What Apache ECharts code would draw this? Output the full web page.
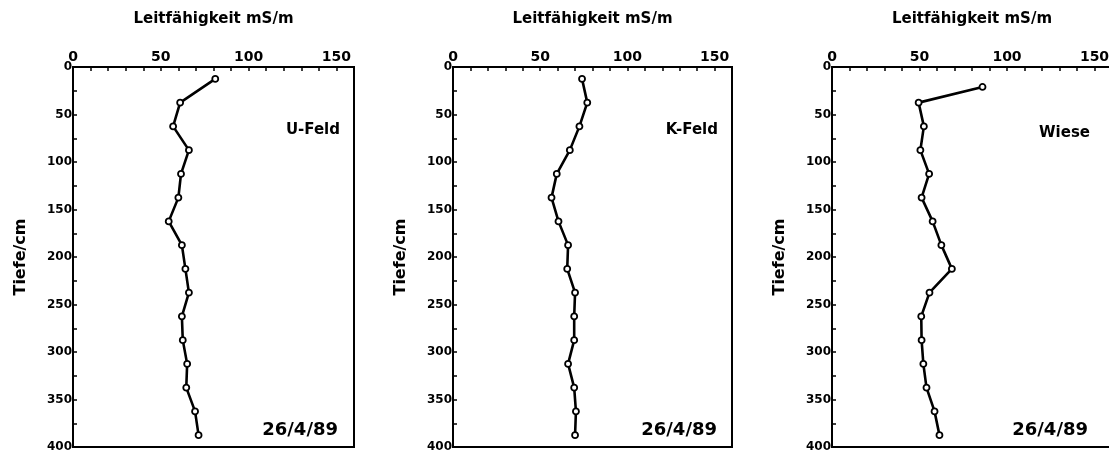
<!DOCTYPE html>
<html>
<head>
<meta charset="utf-8">
<script src="https://cdn.jsdelivr.net/npm/echarts@6/dist/echarts.min.js"></script>
<style>
html,body{margin:0;padding:0;background:#fff;}
#c{width:1109px;height:454px;}
</style>
</head>
<body>
<div id="c"></div>
<script>
// Data (depth in cm, conductivity in mS/m)
const depthsU = [12.5, 37.5, 62.5, 87.5, 112.5, 137.5, 162.5, 187.5, 212.5, 237.5, 262.5, 287.5, 312.5, 337.5, 362.5, 387.5];
const valuesU = [81, 61, 57, 66, 61.5, 60, 54.5, 62, 64, 66, 62, 62.5, 65, 64.5, 69.5, 71.5];

const depthsK = [12.5, 37.5, 62.5, 87.5, 112.5, 137.5, 162.5, 187.5, 212.5, 237.5, 262.5, 287.5, 312.5, 337.5, 362.5, 387.5];
const valuesK = [74, 77, 72.5, 67, 59.5, 56.5, 60.5, 66, 65.5, 70, 69.5, 69.5, 66, 69.5, 70.5, 70];

const depthsW = [21, 37.5, 62.5, 87.5, 112.5, 137.5, 162.5, 187.5, 212.5, 237.5, 262.5, 287.5, 312.5, 337.5, 362.5, 387.5];
const valuesW = [86, 49.5, 52.5, 50.5, 55.5, 51.2, 57.5, 62.5, 68.5, 55.7, 51, 51.2, 52.2, 54, 58.6, 61.4];

const panelLabels = ['U-Feld', 'K-Feld', 'Wiese'];
const dateLabel = '26/4/89';
const xTitle = 'Leitfähigkeit mS/m';
const yTitle = 'Tiefe/cm';
const xTickLabels = [0, 50, 100, 150];
const yTickLabels = [0, 50, 100, 150, 200, 250, 300, 350, 400];

const FONT = 'DejaVu Sans';
const grids = [
  {left: 73, top: 67, width: 281, height: 380},
  {left: 453, top: 67, width: 279, height: 380},
  {left: 832, top: 67, width: 280, height: 380}
];
const series = [[depthsU, valuesU], [depthsK, valuesK], [depthsW, valuesW]];

const option = {
  backgroundColor: '#fff',
  animation: false,
  grid: grids.map(g => Object.assign({show: true, borderColor: '#000', borderWidth: 2, backgroundColor: 'transparent', containLabel: false, outerBoundsMode: 'none'}, g)),
  xAxis: grids.map((g, i) => ({
    gridIndex: i, type: 'value', position: 'top', min: 0, max: 160, interval: 10,
    name: xTitle, nameLocation: 'middle', nameGap: 40,
    nameTextStyle: {fontFamily: FONT, fontWeight: 'bold', fontSize: 15, color: '#000'},
    axisLine: {show: true, lineStyle: {color: '#000', width: 2}},
    axisTick: {show: true, inside: true, length: 4, lineStyle: {color: '#000', width: 1.5}},
    axisLabel: {show: true, margin: 3, fontFamily: FONT, fontWeight: 'bold', fontSize: 14, color: '#000',
      formatter: v => xTickLabels.indexOf(v) >= 0 ? String(v) : ''},
    splitLine: {show: false}
  })),
  yAxis: grids.map((g, i) => ({
    gridIndex: i, type: 'value', inverse: true, min: 0, max: 400, interval: 25,
    name: yTitle, nameLocation: 'middle', nameGap: 44, nameRotate: 90,
    nameTextStyle: {fontFamily: FONT, fontWeight: 'bold', fontSize: 16, color: '#000'},
    axisLine: {show: true, lineStyle: {color: '#000', width: 2}},
    axisTick: {show: true, inside: true, length: 4, lineStyle: {color: '#000', width: 1.5}},
    axisLabel: {show: true, margin: 1, fontFamily: FONT, fontWeight: 'bold', fontSize: 12, color: '#000',
      formatter: v => yTickLabels.indexOf(v) >= 0 ? String(v) : ''},
    splitLine: {show: false}
  })),
  series: series.map((s, i) => ({
    type: 'line', xAxisIndex: i, yAxisIndex: i,
    data: s[0].map((d, k) => [s[1][k], d]),
    symbol: 'circle', symbolSize: 6,
    itemStyle: {color: '#fff', borderColor: '#000', borderWidth: 1.8},
    lineStyle: {color: '#000', width: 2.6},
    z: 3
  })),
  graphic: []
};

const labelPos = [
  {x: 340, y: 130}, {x: 718, y: 130}, {x: 1090, y: 133}
];
const datePos = [
  {x: 338, y: 430}, {x: 717, y: 430}, {x: 1088, y: 430}
];
panelLabels.forEach((t, i) => {
  option.graphic.push({type: 'text', x: labelPos[i].x, y: labelPos[i].y,
    style: {text: t, fontFamily: FONT, fontWeight: 'bold', fontSize: 15, fill: '#000', align: 'right', verticalAlign: 'middle'}});
  option.graphic.push({type: 'text', x: datePos[i].x, y: datePos[i].y,
    style: {text: dateLabel, fontFamily: FONT, fontWeight: 'bold', fontSize: 18, fill: '#000', align: 'right', verticalAlign: 'middle'}});
});

const chart = echarts.init(document.getElementById('c'), null, {renderer: 'canvas'});
chart.setOption(option);
</script>
</body>
</html>
